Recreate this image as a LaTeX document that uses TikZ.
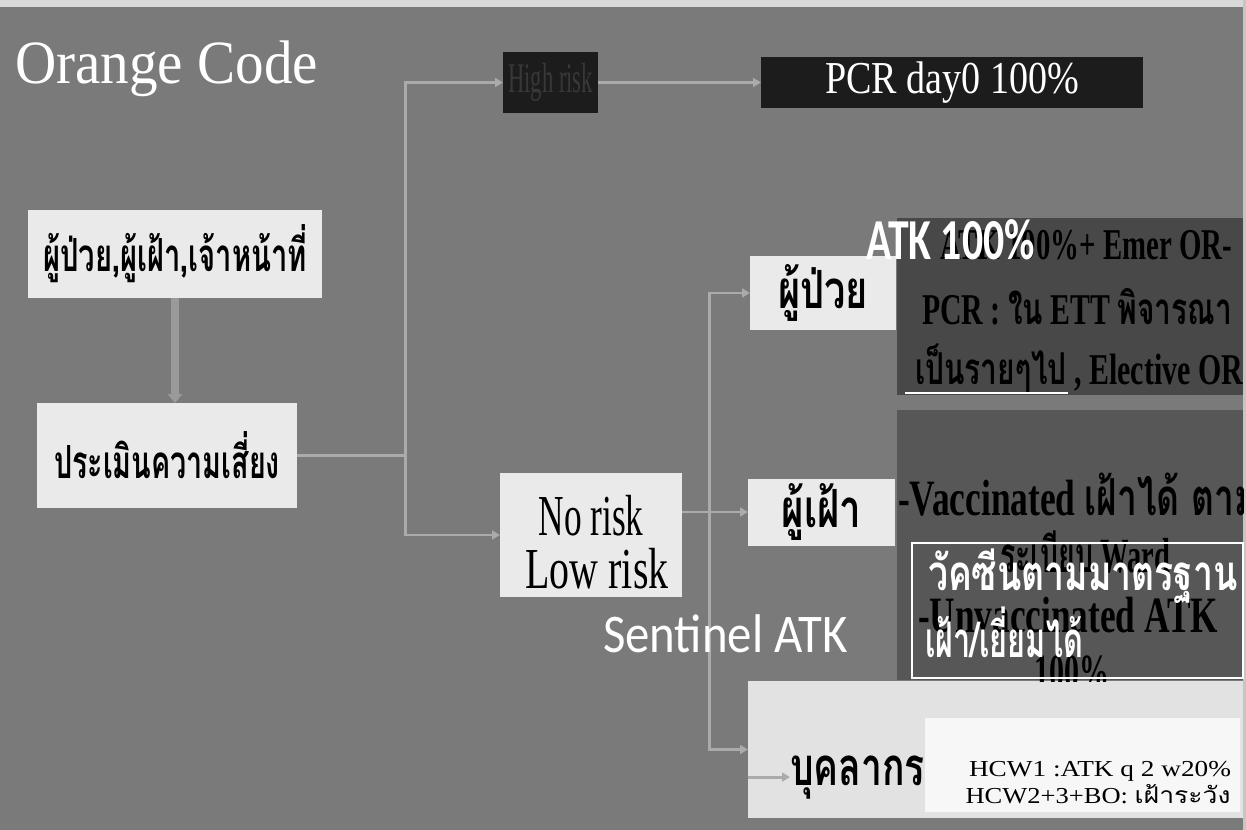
\documentclass[tikz,border=0pt]{standalone}
\usepackage{fontspec}
\usepackage{graphicx}
\setmainfont{Liberation Serif}
\newfontfamily\thai[Script=Thai]{Loma}
\newfontfamily\carl{Carlito}
\usetikzlibrary{arrows.meta}
\newsavebox\fitbox
\makeatletter
\newcommand\fitw[2]{\sbox\fitbox{#2}\dimen@=\wd\fitbox\relax\edef\fitwW{\strip@pt\dimen@}\pgfmathsetmacro\fitwF{#1*0.569055/\fitwW}\scalebox{\fitwF}[1]{\usebox\fitbox}}
\makeatother
\newcommand\T[3]{\fitw{#2}{\fontsize{#1}{#1}\selectfont #3}}
\definecolor{bg}{HTML}{7A7A7A}
\definecolor{darkbox}{HTML}{1C1C1C}
\definecolor{panel}{HTML}{484848}
\definecolor{lightbox}{HTML}{EAEAEA}
\definecolor{paleb}{HTML}{E2E2E2}
\definecolor{connc}{HTML}{ABABAB}
\definecolor{faint}{HTML}{383838}
\tikzset{
  rbox/.style={inner sep=0pt, outer sep=0pt, draw=none},
  sz/.style 2 args={minimum width={#1*0.02cm}, minimum height={#2*0.02cm}},
  cline/.style={draw=connc, line width=1.7pt},
  carrow/.style={cline, -{Triangle[length=4.5pt,width=5pt]}},
  bigarrow/.style={draw=connc!90!black, line width=4.2pt, -{Triangle[length=5pt,width=8pt]}},
  txt/.style={inner sep=0pt, outer sep=0pt},
}
\begin{document}
\begin{tikzpicture}[x=0.02cm,y=-0.02cm]
\useasboundingbox (0,0) rectangle (1246,830);
\fill[bg] (0,0) rectangle (1246,830);
\fill[gray!30] (0,0) rectangle (1246,7);
\fill[gray!45] (1243,0) rectangle (1246,830);
% panels
\node[rbox, fill=panel, sz={346}{177}, anchor=north west] (p1) at (897,218) {};
\node[rbox, fill=panel!92!white, sz={346}{270}, anchor=north west] (p2) at (897,410) {};
% title
\node[txt, anchor=base west, text=white] (title) at (15,84) {\T{35}{303}{Orange Code}};
% boxes
\node[rbox, fill=darkbox, sz={95}{61}] (high) at (550.5,82.5) {\raisebox{-2pt}{\textcolor{faint}{\T{24}{85}{High risk}}}};
\node[rbox, fill=darkbox, sz={382}{51}] (pcr) at (952,82.5) {\raisebox{-2pt}{\textcolor{white}{\T{26}{254}{PCR day0 100\%}}}};
\node[rbox, fill=lightbox, sz={294}{88}] (who) at (175,254) {\T{26}{264}{\thai\bfseries ผู้ป่วย,ผู้เฝ้า,เจ้าหน้าที่}};
\node[rbox, fill=lightbox, sz={260}{105}] (assess) at (167,455.5) {\T{26}{226}{\thai\bfseries ประเมินความเสี่ยง}};
\node[rbox, fill=lightbox, sz={182}{124}] (risk) at (591,535) {};
\node[rbox, fill=lightbox, sz={146}{74}] (patient) at (823,293) {\T{30}{90}{\thai\bfseries ผู้ป่วย}};
\node[rbox, fill=lightbox, sz={147}{67}] (visitor) at (821.5,512) {\T{30}{80}{\thai\bfseries ผู้เฝ้า}};
\node[rbox, fill=paleb, sz={495}{137}, anchor=north west] (staffbox) at (748,681) {};
\node[rbox, fill=white!94!gray, sz={315}{94}, anchor=north west] (hcwbox) at (925,718) {};
% connectors
\draw[bigarrow] (who.south) -- (who.south |- assess.north);
\draw[cline] (assess.east) -- ++(108,0) coordinate (j1);
\draw[carrow] (j1) |- (high.west);
\draw[carrow] (j1) |- (risk.west);
\draw[carrow] (high.east) -- (pcr.west);
\path (risk.east |- visitor.west) -- (visitor.west) coordinate[pos=0.42] (j2);
\draw[carrow] (risk.east |- visitor.west) -- (visitor.west);
\draw[carrow] (j2) |- (patient.west);
\draw[carrow] (j2) |- (staffbox.west);
% texts
\node[txt, anchor=base] (nr) at (591,535) {\T{33}{105}{No risk}};
\node[txt, anchor=base] (lr) at (597,588) {\T{33}{143}{Low risk}};
\node[txt, anchor=base west, text=white] (sent) at (603,652) {\T{31}{245}{\carl Sentinel ATK}};
\node[txt, anchor=base west] (staff) at (790,785) {\T{30}{135}{\thai\bfseries บุคลากร}};
\draw[carrow] (staffbox.west |- staff.center) -- (staff.west);
\node[txt, anchor=base] (hcw1) at (1100,776) {\T{13}{262}{HCW1 :ATK q 2 w20\%}};
\node[txt, anchor=base] (hcw2) at (1098,803) {\T{13}{265}{HCW2+3+BO: {\thai เฝ้าระวัง}}};
\begin{scope}
\clip (897,210) rectangle (1243,681);
\node[txt, anchor=base east] (l1) at (1232,260) {\T{25}{292}{\bfseries ATK 100\%+ Emer OR-}};
\node[txt, anchor=base west] (l2) at (922,325) {\T{25}{310}{\bfseries PCR : {\thai ใน} ETT {\thai พิจารณา}}};
\node[txt, anchor=base west] (l3) at (915,385) {\T{25}{328}{\bfseries {\thai เป็นรายๆไป} , Elective OR}};
\node[txt, anchor=base west] (v1) at (898,515) {\T{29}{360}{\bfseries -Vaccinated {\thai เฝ้าได้ ตาม}}};
\node[txt, anchor=base] (v2) at (1085,572) {\T{28}{170}{\bfseries {\thai ระเบียบ} Ward}};
\node[txt, anchor=base west] (v3) at (918,632) {\T{29}{300}{\bfseries -Unvaccinated ATK}};
\node[txt, anchor=base] (v4) at (1072,688) {\T{28}{75}{\bfseries 100\%}};
\end{scope}
\draw[white, line width=1.6pt] (l3.base west) ++(-10,8) -- ++(163,0);
\node[txt, anchor=base west, text=white] (atkw) at (866,260) {\T{33}{169}{\carl\bfseries ATK 100\%}};
\node[rbox, draw=white, line width=1.2pt, sz={331}{135}, anchor=north west] (ov) at (912,543) {};
\node[txt, anchor=base west, text=white] (w1) at (928,590) {\T{28}{310}{\thai\bfseries วัคซีนตามมาตรฐาน}};
\node[txt, anchor=base west, text=white] (w2) at (925,657) {\T{28}{158}{\thai\bfseries เฝ้า/เยี่ยมได้}};
\end{tikzpicture}
\end{document}
